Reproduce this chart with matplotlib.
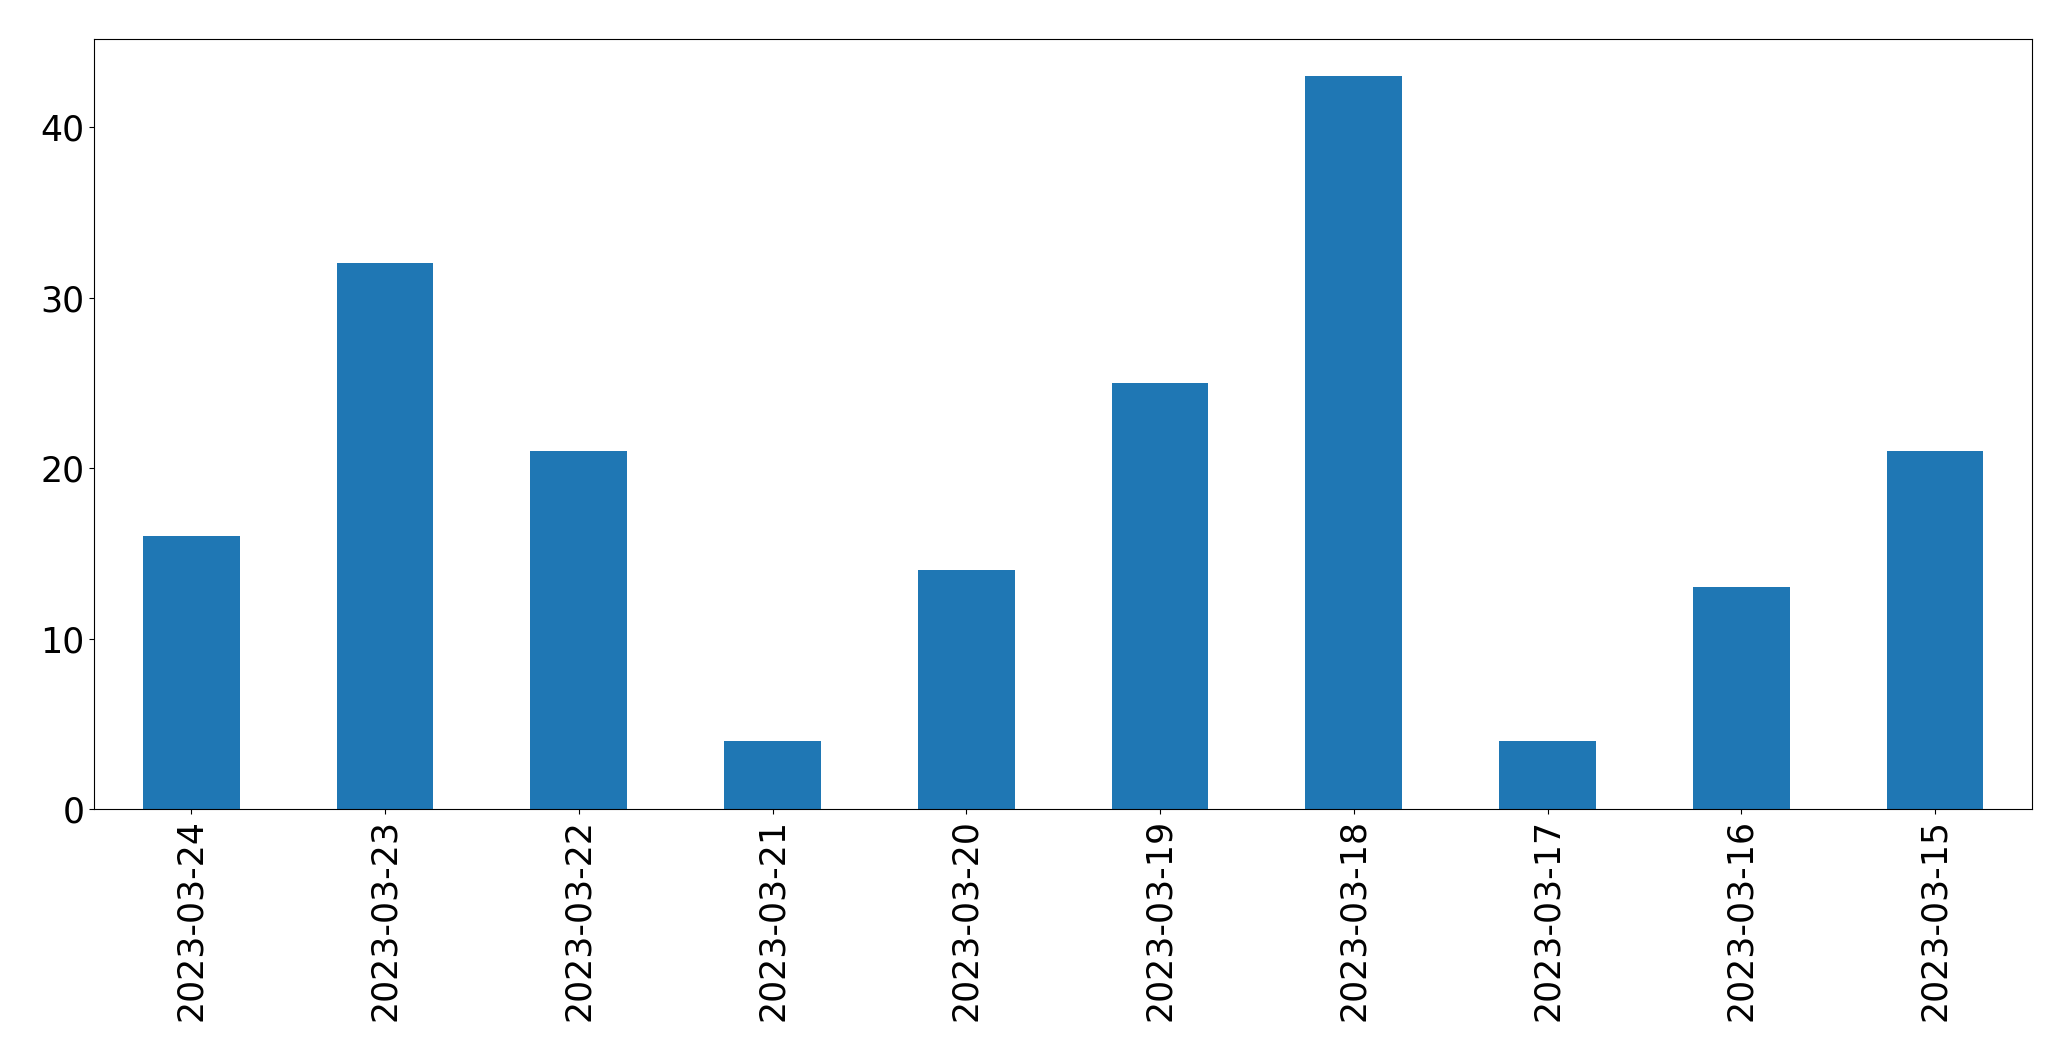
import matplotlib
matplotlib.use('Agg')
import matplotlib.pyplot as plt

dates = ['2023-03-24', '2023-03-23', '2023-03-22', '2023-03-21', '2023-03-20',
         '2023-03-19', '2023-03-18', '2023-03-17', '2023-03-16', '2023-03-15']
counts = [16, 32, 21, 4, 14, 25, 43, 4, 13, 21]

fig = plt.figure(figsize=(20.71, 10.61), dpi=100)
ax = fig.add_axes([0.0456, 0.2375, 0.9355, 0.7255])

x = list(range(len(dates)))
ax.bar(x, counts, width=0.5, color='#1f77b4')
ax.set_xlim(-0.5, len(dates) - 0.5)
ax.set_xticks(x)
ax.set_xticklabels(dates, rotation=90)
ax.tick_params(labelsize=25)

fig.savefig('out.png', dpi=100)
